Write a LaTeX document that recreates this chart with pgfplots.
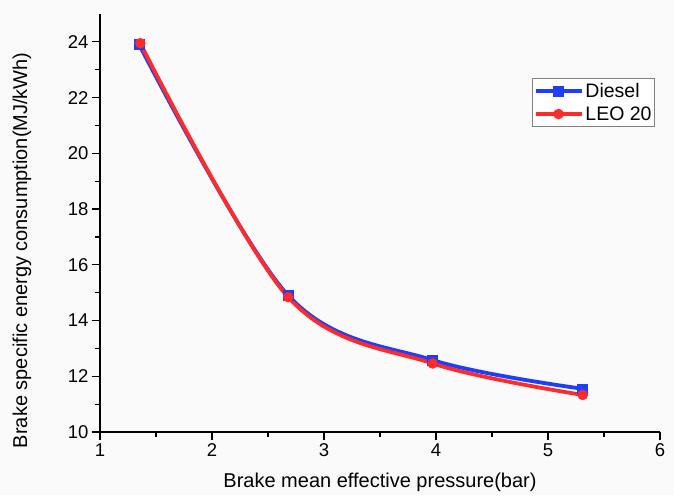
\documentclass[border=0pt]{standalone}
\usepackage{fontspec}
\setmainfont{Liberation Sans}
\usepackage{pgfplots}
\pgfplotsset{compat=1.18}
\definecolor{dieselblue}{HTML}{1F3DFF}
\definecolor{leored}{HTML}{FF2B2B}
\definecolor{bgc}{HTML}{FAFAFA}
\newcommand{\tickfont}{\fontsize{18.5}{18.5}\selectfont}

\begin{document}
\begin{tikzpicture}
  \useasboundingbox[fill=bgc] (-100pt,-63pt) rectangle (574pt,432pt);
  \begin{axis}[
      at={(0,0)}, anchor=south west,
      width=560pt, height=418pt, scale only axis,
      xmin=1, xmax=6, ymin=10, ymax=25,
      xtick={1,2,3,4,5,6}, ytick={10,12,14,16,18,20,22,24},
      minor tick num=1,
      axis x line=bottom, axis y line=left,
      axis line style={-, line width=1.5pt, black},
      tick align=outside,
      major tick length=8pt, minor tick length=5pt,
      tick style={line width=1.2pt, black},
      /pgf/number format/assume math mode=true,
      xticklabel={\tickfont\pgfmathprintnumber{\tick}},
      yticklabel={\tickfont\pgfmathprintnumber{\tick}},
      label style={font=\fontsize{20}{20}\selectfont},
      xlabel={Brake mean effective pressure(bar)},
      ylabel={Brake specific energy consumption(MJ/kWh)},
      xlabel style={at={(axis description cs:0.5,-0.1196)}, anchor=center},
      ylabel style={at={(axis description cs:-0.1393,0.435)}, anchor=center},
      legend style={at={(rel axis cs:0.991,0.847)}, anchor=north east,
        draw=gray, line width=0.8pt, fill=white,
        font=\fontsize{19.5}{19.5}\selectfont,
        inner xsep=1pt, inner ysep=3pt, row sep=3.5pt},
      legend cell align=left,
      legend image code/.code={
        \draw[#1, mark repeat=2, mark phase=2] plot coordinates {(0pt,0pt) (23pt,0pt) (46pt,0pt)};
      },
    ]
    \addplot[dieselblue, line width=3.8pt, smooth, tension=0.55,
      mark=square*, mark size=5pt, mark options={solid, line width=0.5pt}]
      coordinates {(1.35,23.90) (2.68,14.90) (3.97,12.58) (5.31,11.55)};
    \addlegendentry{Diesel}
    \addplot[leored, line width=3.8pt, smooth, tension=0.55,
      mark=*, mark size=5pt, mark options={solid, line width=0.5pt}]
      coordinates {(1.36,23.95) (2.68,14.84) (3.97,12.46) (5.31,11.33)};
    \addlegendentry{LEO 20}
  \end{axis}
\end{tikzpicture}
\end{document}
